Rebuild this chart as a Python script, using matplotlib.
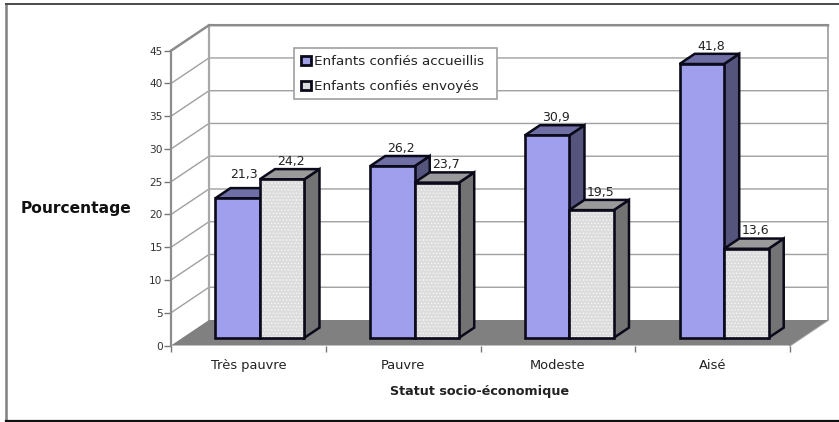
import numpy as np
from matplotlib import pyplot as plt
from matplotlib.lines import Line2D
from matplotlib.patches import Polygon, Rectangle

categories = ['Très pauvre', 'Pauvre', 'Modeste', 'Aisé']
accueillis = [21.3, 26.2, 30.9, 41.8]
envoyes = [24.2, 23.7, 19.5, 13.6]
series_names = ['Enfants confiés accueillis', 'Enfants confiés envoyés']
y_ticks = [0, 5, 10, 15, 20, 25, 30, 35, 40, 45]

W, H = 839, 422
X0, X1 = 171.0, 790.0      # front edge of the floor, pixels
Y0, Y45 = 345.5, 50.7      # front axis, pixels
DEPTH_X = 38.0 / 154.75    # wall offset in category units
DEPTH_Y = 25.5 / 6.551     # wall offset in value units
BAR_W = 44.5 / 154.75
EDGE = '#0a0a1a'

plt.rcParams['font.family'] = ['DejaVu Sans']
plt.rcParams['hatch.linewidth'] = 0.5


def proj(x, y, d=0.0):
    return (x + d * DEPTH_X, y + d * DEPTH_Y)


def face(ax, pts, fc, ec='none', lw=0, z=2, **kw):
    ax.add_patch(Polygon(pts, closed=True, facecolor=fc, edgecolor=ec, linewidth=lw,
                         zorder=z, clip_on=False, joinstyle='miter', **kw))


def bar3d(ax, left, h, colors, z, hatch=None):
    right = left + BAR_W
    d0, d1 = 0.3, 0.7
    front = [proj(left, 0, d0), proj(right, 0, d0), proj(right, h, d0), proj(left, h, d0)]
    top = [proj(left, h, d0), proj(right, h, d0), proj(right, h, d1), proj(left, h, d1)]
    side = [proj(right, 0, d0), proj(right, 0, d1), proj(right, h, d1), proj(right, h, d0)]
    face(ax, side, colors[2], EDGE, 1.8, z)
    face(ax, top, colors[1], EDGE, 1.8, z)
    face(ax, front, colors[0], 'none', 0, z)
    if hatch:
        face(ax, front, 'none', '#f8f8f8', 0, z, hatch=hatch)
    face(ax, front, 'none', EDGE, 1.9, z)


fig = plt.figure(figsize=(W / 100, H / 100), dpi=100, facecolor='white')
ax = fig.add_axes([X0 / W, 1 - Y0 / H, (X1 - X0) / W, (Y0 - Y45) / H])
ax.set_xlim(0, 4)
ax.set_ylim(0, 45)
ax.patch.set_visible(False)
for s in ['top', 'right', 'bottom']:
    ax.spines[s].set_visible(False)
ax.spines['left'].set_color('#8c8c8c')
ax.spines['left'].set_linewidth(1.6)

# outer frame, open on the right
for xs, ys, col, lw in [((6, 6), (3.5, 421), '#808080', 1.8),
                        ((6, 839), (3.5, 3.5), '#4a4a4a', 1.4),
                        ((6, 839), (420.8, 420.8), '#111111', 1.6)]:
    fig.add_artist(Line2D([x / W for x in xs], [1 - y / H for y in ys], transform=fig.transFigure,
                          color=col, linewidth=lw))

# floor and walls
face(ax, [proj(0, 0), proj(4, 0), proj(4, 0, 1), proj(0, 0, 1)], '#808080', z=1)
for t in y_ticks[1:]:
    pts = np.array([proj(0, t), proj(0, t, 1), proj(4, t, 1)])
    ax.plot(pts[:, 0], pts[:, 1], color='#a0a0a0', lw=1.0, zorder=0.8, clip_on=False)
for pts, lw in [((proj(0, 0, 1), proj(0, 45, 1)), 1.6),
                ((proj(4, 0), proj(4, 0, 1), proj(4, 45, 1)), 1.4)]:
    pts = np.array(pts)
    ax.plot(pts[:, 0], pts[:, 1], color='#a8a8a8', lw=lw, zorder=0.9, clip_on=False)
pts = np.array([proj(0, 45), proj(0, 45, 1), proj(4, 45, 1)])
ax.plot(pts[:, 0], pts[:, 1], color='#8c8c8c', lw=1.8, zorder=0.9, clip_on=False)

purple = ('#9f9fee', '#6f6fa6', '#54547c')
grey = ('#dcdcdc', '#9a9a9a', '#737373')

for i in range(len(categories)):
    left = i + 0.5 - BAR_W
    bar3d(ax, left, accueillis[i], purple, 3 + i)
    bar3d(ax, left + BAR_W, envoyes[i], grey, 3.5 + i, hatch='.....')
    for xb, v in [(left, accueillis[i]), (left + BAR_W, envoyes[i])]:
        lx, ly = proj(xb + BAR_W / 2, v, 0.7)
        # the first label would run into the taller bar next to it
        nudge_x, nudge_y = (-0.02, 0.9) if (i == 0 and xb == left) else (0, 0)
        ax.text(lx - 0.04 + nudge_x, ly + 0.2 + nudge_y, str(v).replace('.', ','), fontsize=9, color='#222222',
                ha='center', va='bottom', zorder=10, clip_on=False)

ax.set_yticks(y_ticks)
ax.tick_params(axis='y', labelsize=7.6, length=5, width=1, color='#777777', labelcolor='#333333', pad=1)
ax.set_xticks(range(5))
ax.set_xticklabels([])
ax.tick_params(axis='x', length=4, width=1, color='#777777')
ax.set_xticks([i + 0.5 for i in range(4)], minor=True)
ax.set_xticklabels(categories, minor=True, fontsize=9.4, color='#222222')
ax.tick_params(axis='x', which='minor', length=0, pad=10)

fig.text(76 / W, 1 - 208 / H, 'Pourcentage', fontsize=11.2, fontweight='bold', color='#111111',
         ha='center', va='center')
fig.text(480 / W, 1 - 391 / H, 'Statut socio-économique', fontsize=9.2, fontweight='bold', color='#222222',
         ha='center', va='center')

# legend box
fig.add_artist(Rectangle((293.5 / W, 1 - 99 / H), 203.5 / W, 51 / H, transform=fig.transFigure,
                         facecolor='white', edgecolor='#a0a0a0', linewidth=1.2, zorder=20))
for name, fc, yc in zip(series_names, ['#9f9fe6', '#dcdcdc'], [60.5, 85.5]):
    fig.add_artist(Rectangle((301 / W, 1 - (yc + 4.5) / H), 9.5 / W, 9 / H, transform=fig.transFigure,
                             facecolor=fc, edgecolor=EDGE, linewidth=2.0, zorder=21))
    fig.text(314 / W, 1 - (yc + 0.8) / H, name, fontsize=9.7, color='#222222', va='center', zorder=21)

fig.savefig('out.png', dpi=100)
